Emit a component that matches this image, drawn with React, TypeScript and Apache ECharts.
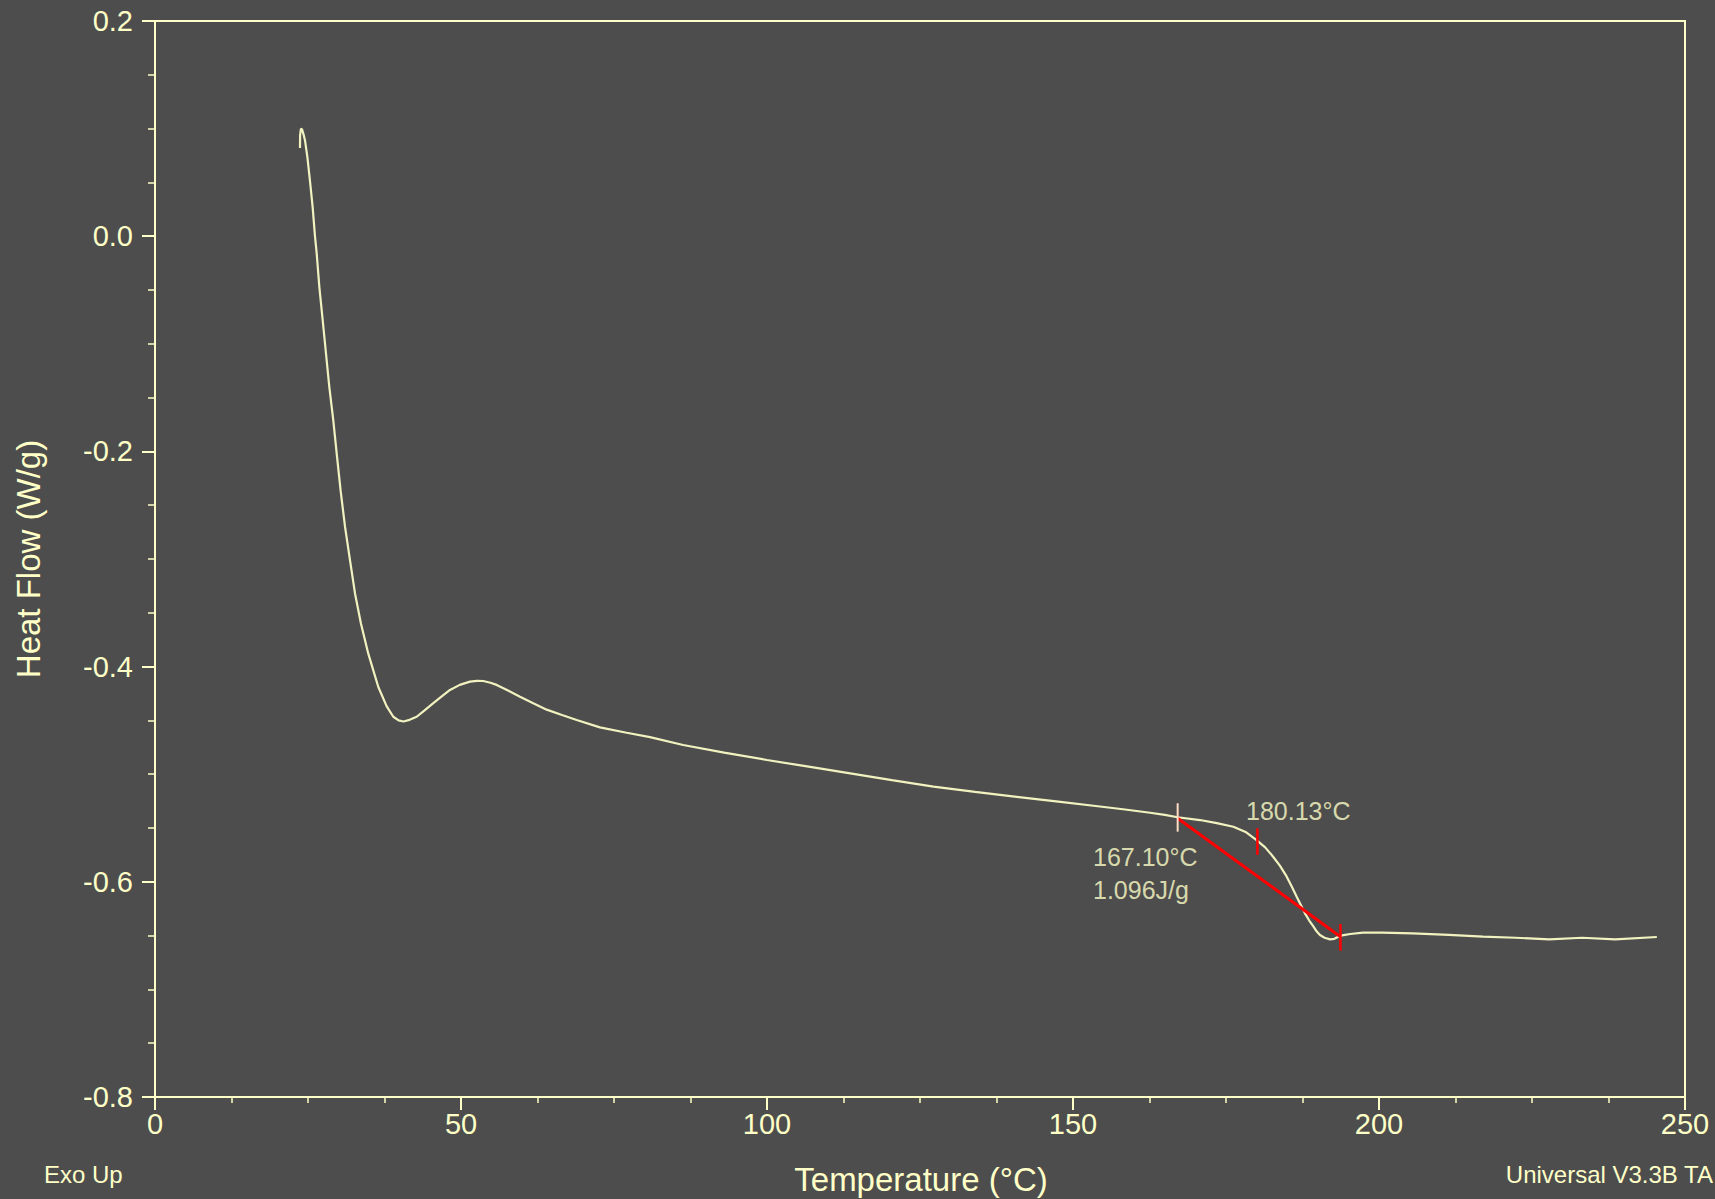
import React, { useEffect, useRef } from "react";
import * as echarts from "echarts";

const heatFlowCurve: [number, number][] = [
  [23.69, 0.082], [23.71, 0.094], [23.85, 0.1], [24.05, 0.099], [24.3, 0.094], [24.51, 0.089],
  [24.89, 0.074], [25.33, 0.051], [25.76, 0.027], [26.14, 0.0], [26.42, -0.016], [26.85, -0.047],
  [27.4, -0.078], [27.94, -0.109], [28.48, -0.14], [29.13, -0.171], [29.69, -0.202], [30.34, -0.237],
  [31.05, -0.27], [31.86, -0.301], [32.68, -0.332], [33.65, -0.36], [34.85, -0.388], [36.49, -0.419],
  [37.86, -0.437], [38.94, -0.4466], [39.8, -0.45], [40.6, -0.451], [41.6, -0.4495], [42.76, -0.4466],
  [44.0, -0.441], [45.48, -0.434], [46.8, -0.428], [48.2, -0.4217], [49.8, -0.417], [51.47, -0.414],
  [52.6, -0.4132], [53.64, -0.4134], [54.8, -0.415], [55.83, -0.417], [57.6, -0.422], [59.64, -0.428],
  [61.8, -0.434], [64.0, -0.44], [66.5, -0.445], [68.9, -0.4496], [72.7, -0.4565], [77.07, -0.4615],
  [80.88, -0.4655], [86.3, -0.4729], [93.0, -0.48], [100.0, -0.4868], [106.8, -0.493], [113.6, -0.4992],
  [120.4, -0.5055], [127.2, -0.5116], [134.0, -0.5165], [140.8, -0.521], [147.6, -0.5255], [154.4, -0.53],
  [158.5, -0.5328], [162.6, -0.5358], [165.0, -0.5378], [167.1, -0.54], [170.75, -0.5426], [173.5, -0.5455],
  [176.2, -0.5488], [178.3, -0.554], [180.0, -0.5612], [181.4, -0.568], [182.7, -0.5767], [183.8, -0.585],
  [184.9, -0.595], [185.7, -0.604], [186.55, -0.6138], [187.9, -0.6293], [188.6, -0.636], [189.3, -0.6417],
  [189.8, -0.646], [190.35, -0.6495], [191.1, -0.652], [192.0, -0.6535], [192.7, -0.653], [193.35, -0.651],
  [194.2, -0.6495], [195.3, -0.6485], [197.4, -0.6473], [200.5, -0.6473], [205.5, -0.648], [211.4, -0.6494],
  [217.0, -0.651], [222.3, -0.652], [227.8, -0.6535], [233.2, -0.652], [238.6, -0.6535], [245.4, -0.6513],
];

const onsetTick: [number, number][] = [[167.1, -0.527], [167.1, -0.5534]];
const peakTick: [number, number][] = [[180.13, -0.5503], [180.13, -0.575]];
const endTick: [number, number][] = [[193.7, -0.6392], [193.7, -0.664]];
const integrationBaseline: [number, number][] = [[167.1, -0.541], [193.7, -0.651]];

const peakLabelPos: [number, number] = [178.27, -0.5342];
const peakLabel = "180.13°C";
const onsetLabelPos: [number, number] = [153.27, -0.5921];
const onsetLabel = "167.10°C\n1.096J/g";

const xTitle = "Temperature (°C)";
const yTitle = "Heat Flow (W/g)";
const cornerLeft = "Exo Up";
const cornerRight = "Universal V3.3B TA";

const FG = "#ffffc8";
const CURVE = "#f2f2c0";
const BG = "#4d4d4d";
const FONT = "'Liberation Sans', Arial, Helvetica, sans-serif";

export default function App() {
  const ref = useRef<HTMLDivElement>(null);
  useEffect(() => {
    if (!ref.current) return;
    document.body.style.margin = "0";
    const chart = echarts.init(ref.current, undefined, { renderer: "svg" });
    chart.setOption({
      animation: false,
      backgroundColor: BG,
      grid: {
        left: 155,
        top: 21,
        right: 30,
        bottom: 102,
        show: true,
        borderColor: FG,
        borderWidth: 2,
        backgroundColor: "transparent",
      },
      xAxis: {
        type: "value",
        min: 0,
        max: 250,
        interval: 50,
        axisLine: { show: true, onZero: false, lineStyle: { color: FG, width: 2 } },
        axisTick: { show: true, length: 13, lineStyle: { color: FG, width: 2 } },
        minorTick: { show: true, splitNumber: 4, length: 6, lineStyle: { color: FG, width: 1.5 } },
        splitLine: { show: false },
        axisLabel: { color: FG, fontSize: 29, fontFamily: FONT, margin: 12 },
      },
      yAxis: {
        type: "value",
        min: -0.8,
        max: 0.2,
        interval: 0.2,
        axisLine: { show: true, onZero: false, lineStyle: { color: FG, width: 2 } },
        axisTick: { show: true, length: 13, lineStyle: { color: FG, width: 2 } },
        minorTick: { show: true, splitNumber: 4, length: 7, lineStyle: { color: FG, width: 1.5 } },
        splitLine: { show: false },
        axisLabel: {
          color: FG,
          fontSize: 29,
          fontFamily: FONT,
          margin: 22,
          formatter: (v: number) => (Math.abs(v) < 1e-9 ? "0.0" : v.toFixed(1)),
        },
      },
      graphic: [
        {
          type: "text",
          x: 921,
          y: 1179,
          style: { text: xTitle, fill: FG, font: `33px ${FONT}`, textAlign: "center", textVerticalAlign: "middle" },
        },
        {
          type: "text",
          x: 28,
          y: 559,
          rotation: Math.PI / 2,
          style: { text: yTitle, fill: FG, font: `33px ${FONT}`, textAlign: "center", textVerticalAlign: "middle" },
        },
        {
          type: "text",
          x: 44,
          y: 1174,
          style: { text: cornerLeft, fill: FG, font: `24px ${FONT}`, textAlign: "left", textVerticalAlign: "middle" },
        },
        {
          type: "text",
          x: 1713,
          y: 1174,
          style: { text: cornerRight, fill: FG, font: `24px ${FONT}`, textAlign: "right", textVerticalAlign: "middle" },
        },
      ],
      series: [
        {
          type: "line",
          data: heatFlowCurve,
          showSymbol: false,
          smooth: false,
          lineStyle: { color: CURVE, width: 2.2 },
          z: 2,
        },
        {
          type: "line",
          data: integrationBaseline,
          showSymbol: false,
          lineStyle: { color: "#ff0000", width: 3 },
          z: 3,
        },
        {
          type: "line",
          data: onsetTick,
          showSymbol: false,
          lineStyle: { color: "#ffdcc4", width: 2 },
          z: 4,
        },
        {
          type: "line",
          data: peakTick,
          showSymbol: false,
          lineStyle: { color: "#ff0000", width: 2.5 },
          z: 4,
        },
        {
          type: "line",
          data: endTick,
          showSymbol: false,
          lineStyle: { color: "#ff0000", width: 2.5 },
          z: 4,
        },
        {
          type: "scatter",
          data: [peakLabelPos],
          symbolSize: 0,
          silent: true,
          label: {
            show: true,
            position: "right",
            distance: 0,
            formatter: () => peakLabel,
            color: FG,
            fontSize: 25,
            fontFamily: FONT,
          },
          z: 5,
        },
        {
          type: "scatter",
          data: [onsetLabelPos],
          symbolSize: 0,
          silent: true,
          label: {
            show: true,
            position: "right",
            distance: 0,
            formatter: () => onsetLabel,
            color: FG,
            fontSize: 25,
            lineHeight: 33,
            fontFamily: FONT,
            align: "left",
          },
          z: 5,
        },
      ],
    });
    return () => chart.dispose();
  }, []);
  return (
    <div
      ref={ref}
      style={{ position: "absolute", left: 0, top: 0, width: 1715, height: 1199 }}
    />
  );
}
